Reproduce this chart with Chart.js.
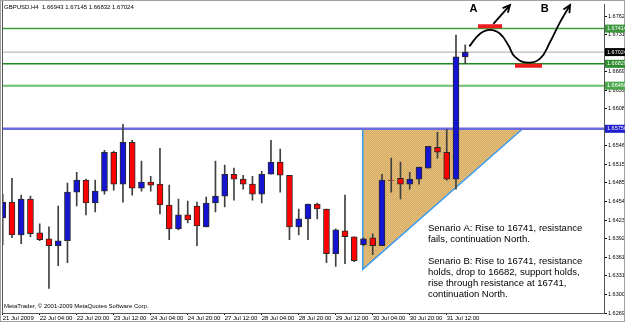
<!DOCTYPE html>
<html>
<head>
<meta charset="utf-8">
<script src="https://cdn.jsdelivr.net/npm/chart.js@4.4.1/dist/chart.umd.min.js"></script>
<style>
  html, body { margin: 0; padding: 0; background: #fff; }
</style>
</head>
<body>
<canvas id="gbpChart" width="625" height="322"></canvas>
<script>
// GBPUSD H4, one entry per bar, 21 Jul 12:00 .. 31 Jul 20:00
const opens  = [1.64269, 1.64533, 1.63989, 1.64583, 1.64022, 1.63923, 1.63808, 1.63890, 1.64698, 1.64896,
                1.64517, 1.64715, 1.65361, 1.64830, 1.65526, 1.64764, 1.64863, 1.64830, 1.64484, 1.64088,
                1.64319, 1.64467, 1.64121, 1.64517, 1.64632, 1.64995, 1.64913, 1.64830, 1.64665, 1.64995,
                1.65196, 1.64978, 1.64121, 1.64253, 1.64500, 1.64418, 1.63676, 1.64055, 1.63956, 1.63824,
                1.63940, 1.63808, 1.64900, 1.64929, 1.64830, 1.64913, 1.65097, 1.65444, 1.65361, 1.64913,
                1.66943];
const highs  = [1.64665, 1.64929, 1.64649, 1.64632, 1.64171, 1.64121, 1.64467, 1.64847, 1.65028, 1.64913,
                1.64896, 1.65394, 1.65378, 1.65823, 1.65559, 1.65213, 1.64962, 1.65427, 1.64814, 1.64583,
                1.64550, 1.64533, 1.64616, 1.65213, 1.65147, 1.65097, 1.64978, 1.64962, 1.65044, 1.65559,
                1.65411, 1.64978, 1.64418, 1.64500, 1.64517, 1.64418, 1.64088, 1.64649, 1.63956, 1.63940,
                1.64006, 1.64995, 1.65262, 1.65196, 1.65028, 1.65114, 1.65460, 1.65691, 1.65740, 1.67307,
                1.67145];
const lows   = [1.63824, 1.63940, 1.63841, 1.63956, 1.63890, 1.63099, 1.63478, 1.63527, 1.64467, 1.64319,
                1.64368, 1.64665, 1.64731, 1.64533, 1.64649, 1.64715, 1.64715, 1.64335, 1.63907, 1.64072,
                1.64187, 1.63808, 1.64121, 1.64368, 1.64451, 1.64566, 1.64748, 1.64566, 1.64517, 1.64995,
                1.64698, 1.63907, 1.63989, 1.63907, 1.64253, 1.63527, 1.63462, 1.63511, 1.63544, 1.63808,
                1.63659, 1.63808, 1.64698, 1.64583, 1.64748, 1.64830, 1.65097, 1.65262, 1.64896, 1.64748,
                1.66832];
const closes = [1.64533, 1.63989, 1.64583, 1.64006, 1.63907, 1.63808, 1.63890, 1.64698, 1.64896, 1.64517,
                1.64715, 1.65361, 1.64830, 1.65526, 1.64764, 1.64863, 1.64814, 1.64484, 1.64088, 1.64319,
                1.64236, 1.64138, 1.64517, 1.64632, 1.64995, 1.64913, 1.64830, 1.64665, 1.64995, 1.65196,
                1.64978, 1.64121, 1.64253, 1.64500, 1.64418, 1.63676, 1.64072, 1.63956, 1.63560, 1.63923,
                1.63808, 1.64896, 1.64892, 1.64830, 1.64913, 1.65114, 1.65460, 1.65361, 1.64913, 1.66944,
                1.67024];

const timeTicks  = [0, 4, 8, 12, 16, 20, 24, 28, 32, 36, 40, 44, 48];
const timeLabels = ['21 Jul 2009', '22 Jul 04:00', '22 Jul 20:00', '23 Jul 12:00', '24 Jul 04:00',
                    '24 Jul 20:00', '27 Jul 12:00', '28 Jul 04:00', '28 Jul 20:00', '29 Jul 12:00',
                    '30 Jul 04:00', '30 Jul 20:00', '31 Jul 12:00'];
const priceTicks = [1.67620, 1.67315, 1.67005, 1.66695, 1.66390, 1.66080, 1.65770, 1.65465, 1.65155,
                    1.64850, 1.64540, 1.64230, 1.63925, 1.63615, 1.63310, 1.63000, 1.62690];

// horizontal levels drawn on the chart
const levelValues = [1.67414, 1.67024, 1.66829, 1.66466, 1.65750];
const levelColors = ['#3f9f3f', '#a8a8a8', '#1f8a1f', '#6cbf6c', '#6b6be0'];
const levelBoxes  = ['#3c963c', '#000000', '#2e8b2e', '#4aa84a', '#1c1ccc'];
const levelWidths = [1.5, 1, 1.5, 2, 2.5];

// ascending triangle
const triangleX = [38.92, 38.92, 56.2, 38.92];
const triangleY = [1.65750, 1.63416, 1.65750, 1.65750];

// scenario path and arrows
const curveX  = [50.44, 51.6, 52.68, 53.76, 54.66, 55.38, 56.71, 58.09, 59.17, 60.25, 61.33];
const curveY  = [1.67120, 1.67328, 1.67394, 1.67328, 1.67137, 1.66944, 1.66850, 1.66916, 1.67191, 1.67521, 1.67805];
const arrowAX = [53.04, 54.84];
const arrowAY = [1.67493, 1.67805];
const markAX  = [51.38, 53.98];
const markAY  = 1.67455;
const markBX  = [55.38, 58.3];
const markBY  = 1.66796;

const scenarioLines = [
    'Senario A: Rise to 16741, resistance',
    'fails, continuation North.',
    '',
    'Senario B: Rise to 16741, resistance',
    'holds, drop to 16682, support holds,',
    'rise through resistance at 16741,',
    'continuation North.'
];

const BULL = '#1414d2';
const BEAR = '#ff0000';

const xMin = -0.0757, xMax = 65.0;
const yMin = 1.62690, yMax = 1.67818;

// dithered fill for the triangle
function hatch() {
    const p = document.createElement('canvas');
    p.width = 2; p.height = 2;
    const g = p.getContext('2d');
    g.fillStyle = '#d6ab5e'; g.fillRect(0, 0, 2, 2);
    g.fillStyle = '#e4c083'; g.fillRect(0, 0, 1, 1); g.fillRect(1, 1, 1, 1);
    return g.createPattern(p, 'repeat');
}

const datasets = [];

datasets.push({
    type: 'line',
    data: triangleX.map((x, i) => ({ x: x, y: triangleY[i] })),
    borderColor: '#3d9bf0',
    borderWidth: 1.5,
    backgroundColor: hatch(),
    fill: 'shape',
    pointRadius: 0,
    tension: 0,
    order: 6
});

levelValues.forEach((v, i) => {
    datasets.push({
        type: 'line',
        data: [{ x: xMin, y: v }, { x: xMax, y: v }],
        borderColor: levelColors[i],
        borderWidth: levelWidths[i],
        pointRadius: 0,
        fill: false,
        order: 5
    });
});

// wicks
datasets.push({
    type: 'bar',
    data: highs.map((h, i) => ({ x: i, y: [lows[i], h] })),
    backgroundColor: '#404040',
    barThickness: 1,
    grouped: false,
    order: 3
});

// bodies
datasets.push({
    type: 'bar',
    data: opens.map((o, i) => ({ x: i, y: [o, closes[i]] })),
    backgroundColor: ctx => closes[ctx.dataIndex] >= opens[ctx.dataIndex] ? BULL : BEAR,
    borderColor: '#2a2a2a',
    borderWidth: 1,
    borderSkipped: false,
    barThickness: 6,
    grouped: false,
    order: 2
});

datasets.push({
    type: 'line',
    data: [{ x: markAX[0], y: markAY }, { x: markAX[1], y: markAY }],
    borderColor: '#ee1c1c', borderWidth: 4, borderCapStyle: 'butt', pointRadius: 0, order: 1
});
datasets.push({
    type: 'line',
    data: [{ x: markBX[0], y: markBY }, { x: markBX[1], y: markBY }],
    borderColor: '#ee1c1c', borderWidth: 4, borderCapStyle: 'butt', pointRadius: 0, order: 1
});

const CURVE_IDX = datasets.length;
datasets.push({
    type: 'line',
    data: curveX.map((x, i) => ({ x: x, y: curveY[i] })),
    borderColor: '#000', borderWidth: 1.8, pointRadius: 0, tension: 0.45, order: 0
});
const ARROW_IDX = datasets.length;
datasets.push({
    type: 'line',
    data: arrowAX.map((x, i) => ({ x: x, y: arrowAY[i] })),
    borderColor: '#000', borderWidth: 1.8, pointRadius: 0, order: 0
});

function arrowHead(c, meta) {
    const pts = meta.data;
    const p1 = pts[pts.length - 2], p2 = pts[pts.length - 1];
    const ang = Math.atan2(p2.y - p1.y, p2.x - p1.x);
    const len = 8;
    c.beginPath();
    c.moveTo(p2.x - len * Math.cos(ang - 0.45), p2.y - len * Math.sin(ang - 0.45));
    c.lineTo(p2.x, p2.y);
    c.lineTo(p2.x - len * Math.cos(ang + 0.45), p2.y - len * Math.sin(ang + 0.45));
    c.stroke();
}

const mtOverlay = {
    id: 'mtOverlay',
    beforeDraw(chart) {
        const c = chart.ctx;
        c.save();
        c.fillStyle = '#fff';
        c.fillRect(0, 0, chart.width, chart.height);
        c.restore();
    },
    afterDraw(chart) {
        const c = chart.ctx, a = chart.chartArea, xs = chart.scales.x, ys = chart.scales.y;
        c.save();

        c.strokeStyle = '#555';
        c.lineWidth = 1;
        c.beginPath();
        c.moveTo(a.left + 0.5, 0);
        c.lineTo(a.left + 0.5, a.bottom);
        c.stroke();
        c.strokeStyle = '#a0a0a0';
        c.strokeRect(0.5, 0.5, chart.width - 1, chart.height - 1);

        // arrow heads
        c.strokeStyle = '#000';
        c.lineWidth = 1.8;
        arrowHead(c, chart.getDatasetMeta(CURVE_IDX));
        arrowHead(c, chart.getDatasetMeta(ARROW_IDX));

        // header and copyright
        c.fillStyle = '#000';
        c.textBaseline = 'middle';
        c.font = '6px "Liberation Sans"';
        c.fillText('GBPUSD,H4  1.66943 1.67145 1.66832 1.67024', 4, 7);
        c.fillText('MetaTrader, \u00a9 2001-2009 MetaQuotes Software Corp.', 4, 306);

        // A / B labels
        c.font = 'bold 11px "Liberation Sans"';
        c.textAlign = 'center';
        c.fillText('A', xs.getPixelForValue(50.9), ys.getPixelForValue(1.67735));
        c.fillText('B', xs.getPixelForValue(58.6), ys.getPixelForValue(1.67735));

        // scenario notes
        c.textAlign = 'left';
        c.font = '9.5px "Liberation Sans"';
        scenarioLines.forEach((t, i) => c.fillText(t, 428, 228 + i * 11));

        // price boxes on the axis
        c.font = '5.5px "Liberation Sans"';
        levelValues.forEach((v, i) => {
            const y = ys.getPixelForValue(v);
            c.fillStyle = levelBoxes[i];
            c.fillRect(a.right + 1, y - 4, chart.width - a.right - 1, 8);
            c.fillStyle = '#fff';
            c.fillText(v.toFixed(5), a.right + 3, y);
        });
        c.restore();
    }
};

new Chart(document.getElementById('gbpChart'), {
    type: 'bar',
    data: { datasets: datasets },
    options: {
        responsive: false,
        animation: false,
        events: [],
        layout: { padding: { left: 2, top: 2, right: 0, bottom: 0 } },
        plugins: { legend: { display: false }, tooltip: { enabled: false } },
        scales: {
            x: {
                type: 'linear',
                min: xMin,
                max: xMax,
                offset: false,
                grid: { display: true, offset: false, drawOnChartArea: false, tickLength: 2, color: '#000' },
                border: { color: '#555' },
                ticks: {
                    align: 'start',
                    autoSkip: false,
                    maxRotation: 0,
                    padding: 0,
                    color: '#000',
                    font: { family: 'Liberation Sans', size: 6 },
                    callback: (v, i) => timeLabels[i]
                },
                afterBuildTicks: axis => { axis.ticks = timeTicks.map(v => ({ value: v })); },
                afterFit: axis => { axis.height = 9; }
            },
            y: {
                type: 'linear',
                position: 'right',
                min: yMin,
                max: yMax,
                beginAtZero: false,
                grid: { display: true, drawOnChartArea: false, tickLength: 3, color: '#000' },
                border: { color: '#555' },
                ticks: {
                    padding: 1,
                    color: '#000',
                    font: { family: 'Liberation Sans', size: 5.5 },
                    callback: v => v.toFixed(5)
                },
                afterBuildTicks: axis => { axis.ticks = priceTicks.map(v => ({ value: v })); },
                afterFit: axis => { axis.width = 21; }
            }
        }
    },
    plugins: [mtOverlay]
});
</script>
</body>
</html>
